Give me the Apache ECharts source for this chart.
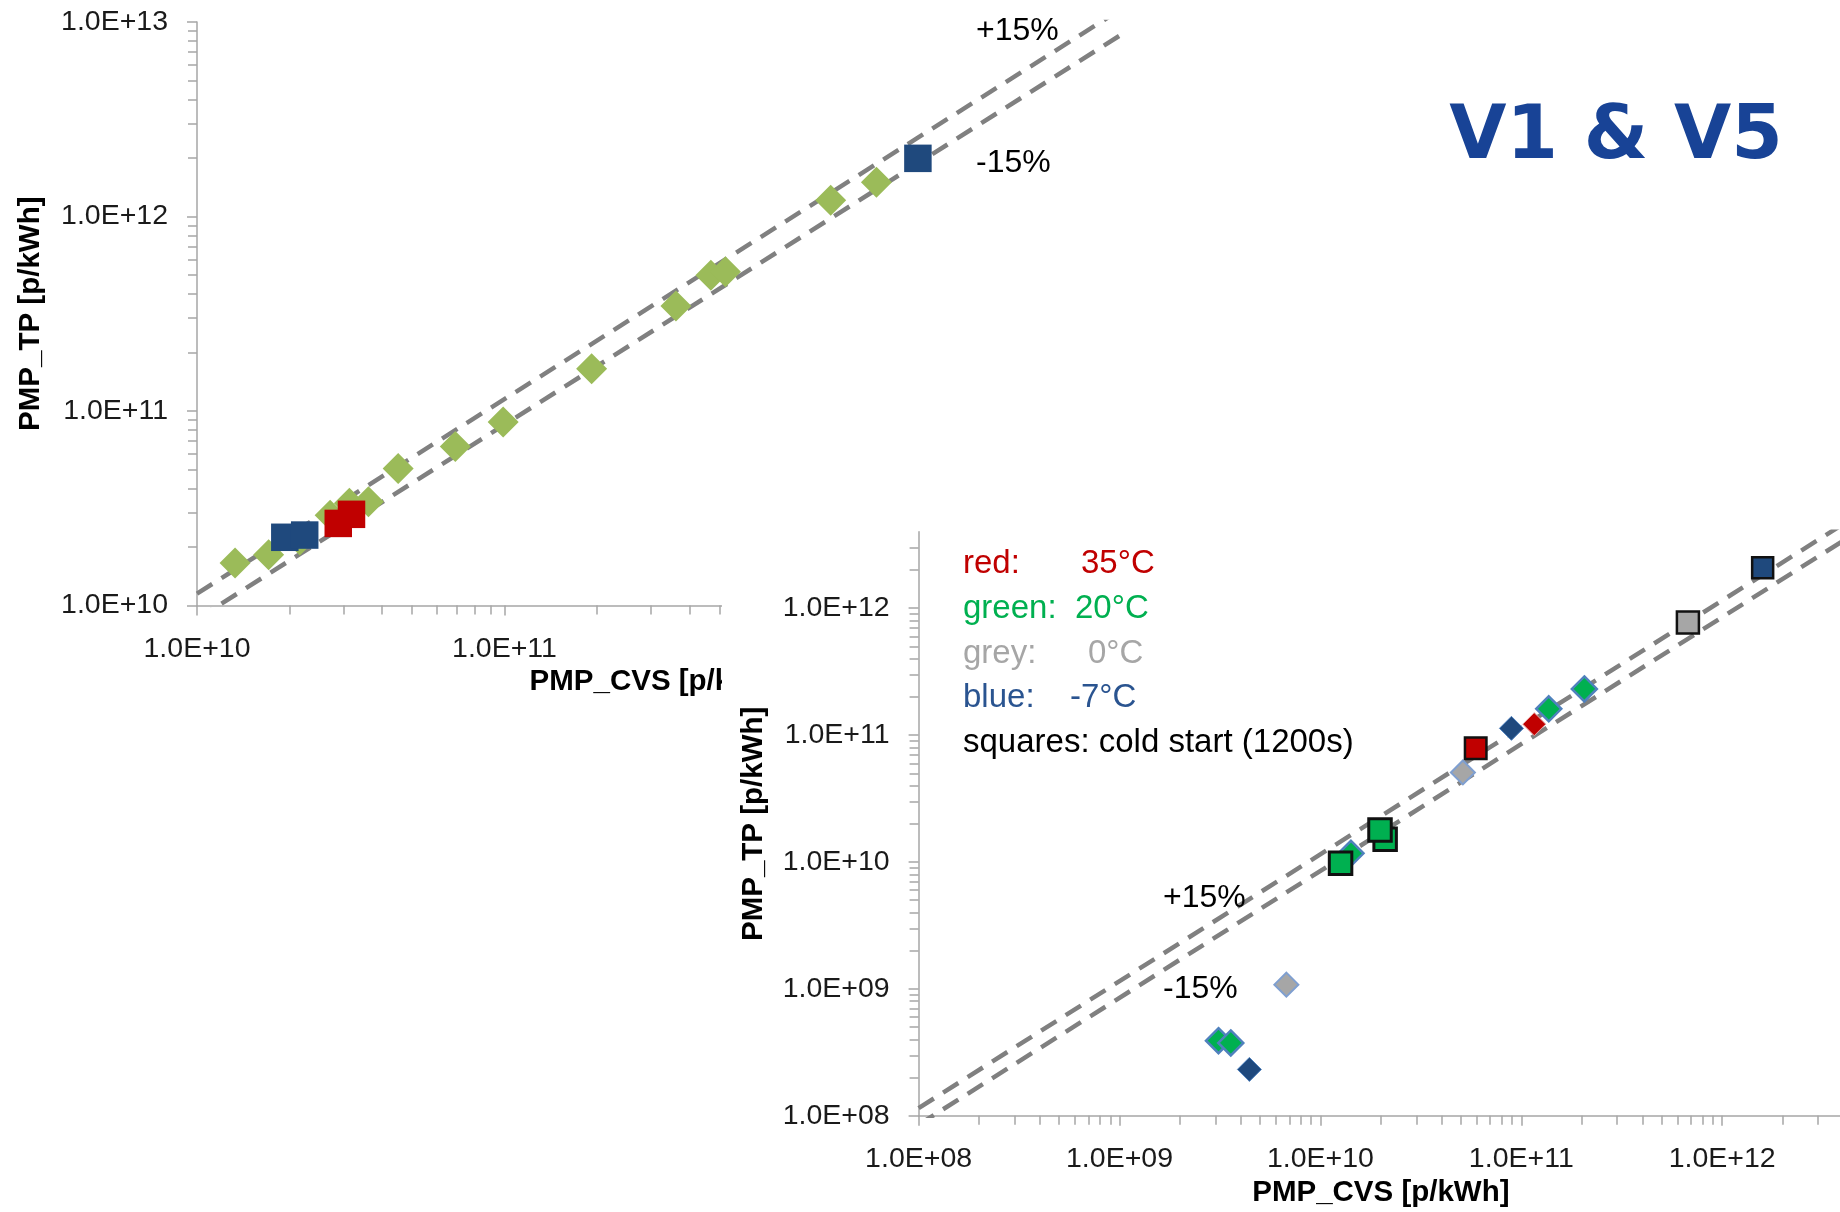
<!DOCTYPE html>
<html><head><meta charset="utf-8">
<script src="https://cdn.jsdelivr.net/npm/echarts@6/dist/echarts.min.js"></script>
<style>html,body{margin:0;padding:0;background:#fff}#c{width:1840px;height:1212px}</style>
</head><body><div id="c"></div>
<script>
// ===== Data =====
// Panel V1 (top-left)
const v1DiamondCVS = [1.33e10, 1.71e10, 2.16e10, 2.71e10, 3.13e10, 3.61e10, 4.51e10, 6.92e10, 9.9e10, 1.92e11, 3.61e11, 4.69e11, 5.23e11, 1.15e12, 1.62e12];
const v1DiamondTP  = [1.65e10, 1.82e10, 2.17e10, 2.91e10, 3.35e10, 3.41e10, 5.06e10, 6.56e10, 8.77e10, 1.65e11, 3.46e11, 4.99e11, 5.19e11, 1.21e12, 1.50e12];
const v1BlueSquareCVS = [1.93e10, 2.24e10, 2.21e12];
const v1BlueSquareTP  = [2.24e10, 2.30e10, 1.99e12];
const v1RedSquareCVS  = [2.88e10, 3.18e10];
const v1RedSquareTP   = [2.64e10, 2.94e10];
const v1LineCVS   = [1e10, 1e13];
const v1PlusTP    = [1.15e10, 1.15e13];
const v1MinusTP   = [0.85e10, 0.85e13];
const v1Ticks     = [1e10, 1e11, 1e12, 1e13];

// Panel V5 (bottom-right)
const v5GreenDiamondCVS = [2.06e11, 1.37e11, 1.42e10, 3.11e9, 3.58e9];
const v5GreenDiamondTP  = [2.31e11, 1.61e11, 1.17e10, 3.91e8, 3.75e8];
const v5BlueDiamondCVS  = [8.93e10, 4.43e9];
const v5BlueDiamondTP   = [1.13e11, 2.32e8];
const v5RedDiamondCVS   = [1.16e11];
const v5RedDiamondTP    = [1.22e11];
const v5GreyDiamondCVS  = [5.12e10, 6.77e9];
const v5GreyDiamondTP   = [5.08e10, 1.08e9];
const v5BlueSquareCVS   = [1.59e12];
const v5BlueSquareTP    = [2.08e12];
const v5GreySquareCVS   = [6.75e11];
const v5GreySquareTP    = [7.73e11];
const v5RedSquareCVS    = [5.93e10];
const v5RedSquareTP     = [7.89e10];
const v5GreenSquareCVS  = [2.10e10, 1.98e10, 1.26e10];
const v5GreenSquareTP   = [1.51e10, 1.79e10, 9.77e9];
const v5LineCVS  = [1e8, 1e13];
const v5PlusTP   = [1.15e8, 1.15e13];
const v5MinusTP  = [0.85e8, 0.85e13];
const v5Ticks    = [1e8, 1e9, 1e10, 1e11, 1e12];

const legendKeys  = ['red:', 'green:', 'grey:', 'blue:', 'squares: cold start (1200s)'];
const legendTemps = ['35°C', '20°C', '0°C', '-7°C', ''];
const bandLabels  = ['+15%', '-15%'];
const panelTitle  = 'V1 & V5';
const xTitle = 'PMP_CVS [p/kWh]';
const yTitle = 'PMP_TP [p/kWh]';

// ===== helpers =====
const zip = (xs, ys) => xs.map((x, i) => [x, ys[i]]);
const sci = v => { const e = Math.round(Math.log10(v)); return '1.0E+' + (e < 10 ? '0' + e : e); };
const FONT = 'Liberation Sans';
const AX = '#A6A6A6';

function logAxis(grid, min, max, ticks, isY, z, nameGap) {
  return {
    gridIndex: grid, type: 'log', logBase: 10, min: min, max: max, z: z,
    axisLine: { show: true, lineStyle: { color: AX, width: 1.5 } },
    axisTick: { show: true, length: 10, customValues: ticks, lineStyle: { color: AX, width: 1.5 } },
    minorTick: { show: true, splitNumber: 9, length: 9, lineStyle: { color: AX, width: 1.5 } },
    axisLabel: { customValues: ticks, formatter: sci, margin: 29, fontSize: 28.5, fontFamily: FONT, color: '#1a1a1a' },
    splitLine: { show: false }, minorSplitLine: { show: false },
    name: isY ? yTitle : xTitle, nameLocation: 'middle', nameGap: nameGap, nameRotate: isY ? 90 : 0,
    nameTextStyle: { fontFamily: FONT, fontWeight: 'bold', fontSize: 29.5, color: '#000' }
  };
}
function dashLine(xi, data, z) {
  return { type: 'line', xAxisIndex: xi, yAxisIndex: xi, data: data, symbol: 'none', silent: true, z: z,
    lineStyle: { color: '#808080', width: 4.5, type: [18, 11] }, clip: true };
}
function scat(xi, data, symbol, size, color, border, bw, z) {
  return { type: 'scatter', xAxisIndex: xi, yAxisIndex: xi, data: data, symbol: symbol, symbolSize: size, z: z,
    itemStyle: { color: color, borderColor: border || color, borderWidth: bw || 0, opacity: 1 } };
}

const g2Left = 918.6, g2Bottom = 1115.8;
const g2W = 200.9 * Math.log10(4e12 / 1e8), g2H = 126.9 * Math.log10(4e12 / 1e8);

const graphics = [
  { type: 'rect', z: 10, shape: { x: 722, y: 500, width: 1118, height: 712 }, style: { fill: '#fff' } },
  { type: 'text', z: 5, style: { text: panelTitle, x: 1616, y: 139, align: 'center', verticalAlign: 'middle',
      font: 'bold 74px "DejaVu Sans"', fill: '#184396' } },
  { type: 'text', z: 5, style: { text: bandLabels[0], x: 976, y: 31, align: 'left', verticalAlign: 'middle', font: '32px "' + FONT + '"', fill: '#000' } },
  { type: 'text', z: 5, style: { text: bandLabels[1], x: 976, y: 163, align: 'left', verticalAlign: 'middle', font: '32px "' + FONT + '"', fill: '#000' } },
  { type: 'text', z: 30, style: { text: bandLabels[0], x: 1163, y: 898, align: 'left', verticalAlign: 'middle', font: '32px "' + FONT + '"', fill: '#000' } },
  { type: 'text', z: 30, style: { text: bandLabels[1], x: 1163, y: 989, align: 'left', verticalAlign: 'middle', font: '32px "' + FONT + '"', fill: '#000' } }
];
const legendColors = ['#C00000', '#00B050', '#A6A6A6', '#2A5490', '#000'];
const legendY = [564, 609, 654, 698, 743];
const tempX = [1081, 1075, 1088, 1070, 0];
legendKeys.forEach((k, i) => {
  graphics.push({ type: 'text', z: 30, style: { text: k, x: 963, y: legendY[i], align: 'left', verticalAlign: 'middle', font: '33px "' + FONT + '"', fill: legendColors[i] } });
  if (legendTemps[i]) graphics.push({ type: 'text', z: 30, style: { text: legendTemps[i], x: tempX[i], y: legendY[i], align: 'left', verticalAlign: 'middle', font: '33px "' + FONT + '"', fill: legendColors[i] } });
});

const option = {
  animation: false,
  backgroundColor: '#fff',
  grid: [
    { left: 197, top: 22, width: 922.5, height: 583.4, containLabel: false, outerBoundsMode: 'none' },
    { left: g2Left, top: g2Bottom - g2H, width: g2W, height: g2H, containLabel: false, outerBoundsMode: 'none' }
  ],
  xAxis: [ logAxis(0, 1e10, 1e13, v1Ticks, false, 0, 61), logAxis(1, 1e8, 4e12, v5Ticks, false, 20, 62) ],
  yAxis: [ logAxis(0, 1e10, 1e13, v1Ticks, true, 0, 151), logAxis(1, 1e8, 4e12, v5Ticks, true, 20, 150) ],
  graphic: graphics,
  series: [
    dashLine(0, zip(v1LineCVS, v1PlusTP), 2),
    dashLine(0, zip(v1LineCVS, v1MinusTP), 2),
    scat(0, zip(v1DiamondCVS, v1DiamondTP), 'diamond', 31, '#9BBB59', null, 0, 3),
    scat(0, zip(v1BlueSquareCVS, v1BlueSquareTP), 'rect', 27.5, '#1F497D', null, 0, 4),
    scat(0, zip(v1RedSquareCVS, v1RedSquareTP), 'rect', 27.5, '#C00000', null, 0, 4),

    dashLine(1, zip(v5LineCVS, v5PlusTP), 21),
    dashLine(1, zip(v5LineCVS, v5MinusTP), 21),
    scat(1, zip(v5GreyDiamondCVS, v5GreyDiamondTP), 'diamond', 24, '#A6A6A6', '#7F9FD0', 2, 22),
    scat(1, zip(v5BlueDiamondCVS, v5BlueDiamondTP), 'diamond', 24, '#1F497D', '#4F81BD', 1, 22),
    scat(1, zip(v5RedDiamondCVS, v5RedDiamondTP), 'diamond', 23, '#C00000', '#E8A0A0', 1, 23),
    scat(1, zip(v5GreenDiamondCVS, v5GreenDiamondTP), 'diamond', 25, '#00B050', '#4F81BD', 2.5, 23),
    scat(1, zip(v5BlueSquareCVS, v5BlueSquareTP), 'rect', 21, '#1F497D', '#111', 2.5, 24),
    scat(1, zip(v5GreySquareCVS, v5GreySquareTP), 'rect', 22, '#A6A6A6', '#111', 2.5, 24),
    scat(1, zip(v5RedSquareCVS, v5RedSquareTP), 'rect', 21.5, '#C00000', '#111', 2.5, 24),
    scat(1, zip(v5GreenSquareCVS, v5GreenSquareTP), 'rect', 22.5, '#00B050', '#111', 3, 25)
  ]
};
const chart = echarts.init(document.getElementById('c'), null, { renderer: 'canvas' });
chart.setOption(option);
</script></body></html>
